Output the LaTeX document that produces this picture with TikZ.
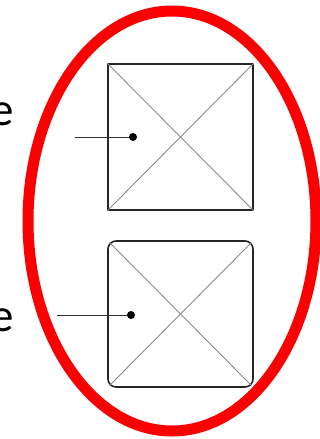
\documentclass[tikz,border=0pt]{standalone}
\usepackage{fontspec}
\setmainfont{Carlito}
\usetikzlibrary{calc}
\definecolor{ringred}{RGB}{250,0,0}
\tikzset{
  ctlbox/.style={draw=black!85, line width=1.6pt, minimum width=145pt, minimum height=146pt, inner sep=0pt},
  crossline/.style={draw=black!45, line width=0.9pt},
  pin/.style={circle, fill=black, minimum size=8pt, inner sep=0pt},
  leader/.style={draw=black!80, line width=0.9pt},
  ring/.style={draw=ringred, line width=11pt},
  lbl/.style={font=\fontsize{47}{50}\selectfont, inner sep=0pt}
}
\begin{document}
\begin{tikzpicture}[x=1pt,y=-1pt]
\useasboundingbox (0,0) rectangle (320,439);
\fill[white] (0,0) rectangle (320,439);
\node[ctlbox] (sq) at (180.5,137) {};
\node[ctlbox, rounded corners=8pt] (rq) at (180.5,314) {};
\draw[crossline] (sq.north west) -- (sq.south east);
\draw[crossline] (sq.north east) -- (sq.south west);
\draw[crossline] ($(rq.north west)+(2.5,2.5)$) -- ($(rq.south east)+(-2.5,-2.5)$);
\draw[crossline] ($(rq.north east)+(-2.5,2.5)$) -- ($(rq.south west)+(2.5,-2.5)$);
\draw[ring] (172,221) ellipse [x radius=144, y radius=210];
\node[lbl, anchor=base east] (t1) at (14,125) {e};
\node[lbl, anchor=base east] (t2) at (14,331) {e};
\coordinate (l1) at (75,137);
\coordinate (l2) at (57,315);
\node[pin] (d1) at (133,137) {};
\node[pin] (d2) at (131,315) {};
\draw[leader] (l1) -- (d1);
\draw[leader] (l2) -- (d2);
\end{tikzpicture}
\end{document}
